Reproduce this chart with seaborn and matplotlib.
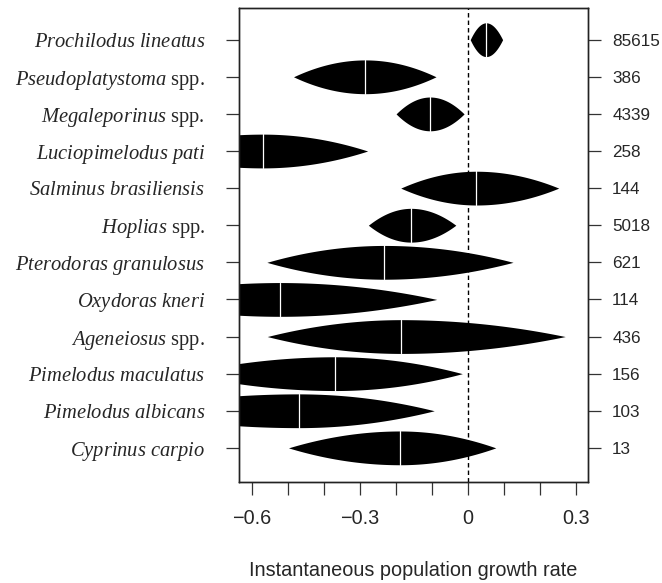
import numpy as np
import matplotlib
matplotlib.use("Agg")
import matplotlib.pyplot as plt
import seaborn as sns

species = [
    r"$\mathit{Prochilodus\ lineatus}$",
    r"$\mathit{Pseudoplatystoma}$ spp.",
    r"$\mathit{Megaleporinus}$ spp.",
    r"$\mathit{Luciopimelodus\ pati}$",
    r"$\mathit{Salminus\ brasiliensis}$",
    r"$\mathit{Hoplias}$ spp.",
    r"$\mathit{Pterodoras\ granulosus}$",
    r"$\mathit{Oxydoras\ kneri}$",
    r"$\mathit{Ageneiosus}$ spp.",
    r"$\mathit{Pimelodus\ maculatus}$",
    r"$\mathit{Pimelodus\ albicans}$",
    r"$\mathit{Cyprinus\ carpio}$",
]
sample_sizes = ["85615", "386", "4339", "258", "144", "5018",
                "621", "114", "436", "156", "103", "13"]
means = [0.051, -0.285, -0.105, -0.569, 0.024, -0.158,
         -0.232, -0.521, -0.185, -0.368, -0.470, -0.188]
lower = [0.007, -0.484, -0.199, -0.92, -0.186, -0.276,
         -0.558, -0.97, -0.557, -0.79, -0.97, -0.498]
upper = [0.097, -0.088, -0.010, -0.278, 0.253, -0.033,
         0.126, -0.086, 0.271, -0.015, -0.093, 0.078]
xticks_major = [-0.6, -0.3, 0.0, 0.3]
xtick_labels = ["\u22120.6", "\u22120.3", "0", "0.3"]
xticks_minor = [-0.6, -0.5, -0.4, -0.3, -0.2, -0.1, 0.0, 0.1, 0.2, 0.3]

sns.set_style("ticks")
plt.rcParams["font.family"] = ["Liberation Sans", "DejaVu Sans"]
plt.rcParams["mathtext.fontset"] = "custom"
plt.rcParams["mathtext.it"] = "Liberation Serif:italic"
plt.rcParams["mathtext.rm"] = "Liberation Serif"

fig = plt.figure(figsize=(6.62, 5.83), dpi=100)
ax = fig.add_axes([239 / 662, 1 - 482 / 583, (588 - 239) / 662, (482 - 8.3) / 583])

half_h = 0.455
rows = np.arange(1, len(species) + 1)
for y, m, lo, hi in zip(rows, means, lower, upper):
    xl = np.linspace(lo, m, 200)
    hl = half_h * (1 - ((m - xl) / (m - lo)) ** 2)
    xr = np.linspace(m, hi, 200)
    hr = half_h * (1 - ((xr - m) / (hi - m)) ** 2)
    xs = np.concatenate([xl, xr[1:]])
    hs = np.concatenate([hl, hr[1:]])
    ax.fill_between(xs, y - hs, y + hs, color="black", lw=0, zorder=2)
    ax.plot([m, m], [y - half_h, y + half_h], color="white", lw=0.9, zorder=3)

ax.axvline(0, color="black", lw=1.0, dashes=(3.2, 2.2), zorder=4)

ax.set_xlim(-0.6355, 0.3343)
ax.set_ylim(12.92, 0.154)

ax.set_xticks(xticks_minor, minor=True)
ax.set_xticks(xticks_major)
ax.set_xticklabels(xtick_labels, fontsize=14.3)
ax.set_yticks(rows)
ax.set_yticklabels(species, fontsize=14.8, family="Liberation Serif")
ax.tick_params(axis="both", which="both", length=9.4, width=0.9, color="#333333")
ax.tick_params(axis="x", which="both", pad=10)
ax.tick_params(axis="y", pad=15)
ax.tick_params(axis="x", which="minor", labelbottom=False)

ax2 = ax.twinx()
ax2.set_ylim(ax.get_ylim())
ax2.set_yticks(rows)
ax2.set_yticklabels(sample_sizes, fontsize=12.3)
ax2.tick_params(axis="y", length=9.4, width=0.9, color="#333333", pad=8)

for a in (ax, ax2):
    for s in a.spines.values():
        s.set_visible(True)
        s.set_color("#222222")
        s.set_linewidth(1.0)

ax.set_xlabel("Instantaneous population growth rate", fontsize=14.3, labelpad=24)

fig.savefig("out.png", dpi=100, facecolor="white")
